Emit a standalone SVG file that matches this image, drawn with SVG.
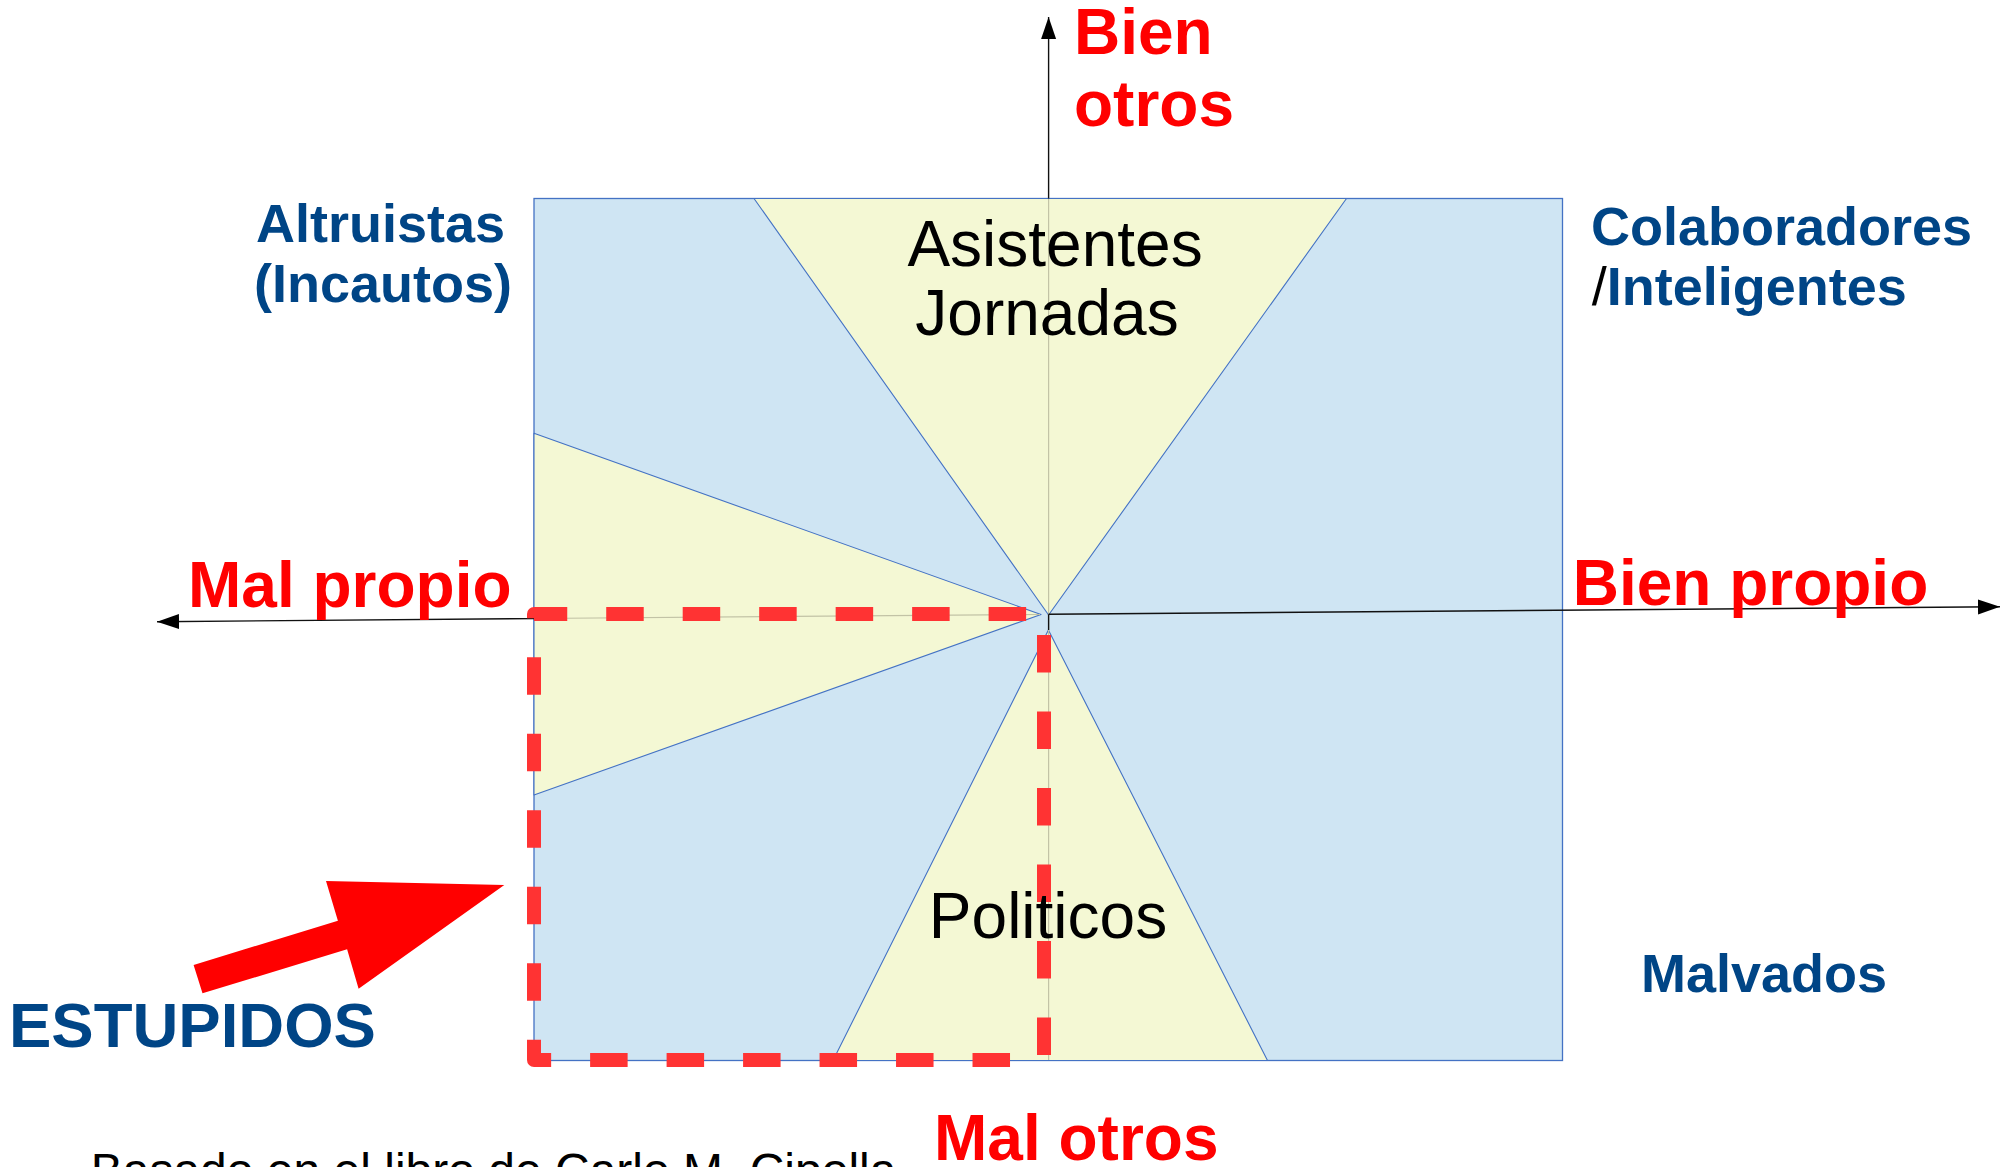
<svg xmlns="http://www.w3.org/2000/svg" width="2005" height="1167" viewBox="0 0 2005 1167">
  <style>
    text { font-family: "Liberation Sans", Arial, sans-serif; }
    .axislbl { font-size: 64px; font-weight: bold; fill: #ff0000; }
    .typelbl { font-size: 54px; font-weight: bold; fill: #004586; }
    .zone { font-size: 64px; fill: #000000; }
    .blue { fill: #cfe5f3; stroke: #4472c4; stroke-width: 1.3; }
    .yellow { fill: #f4f8d4; stroke: #4472c4; stroke-width: 1.1; stroke-linejoin: round; }
    .axis { stroke: #111111; stroke-width: 1.4; fill: none; }
    .faint { stroke: #c2c3a6; stroke-width: 1.2; fill: none; }
  </style>
  <defs>
    <marker id="arrow" markerUnits="userSpaceOnUse" markerWidth="22" markerHeight="16" refX="22" refY="8" orient="auto">
      <path d="M0,0.5 L22,8 L0,15.5 z" fill="#000000"/>
    </marker>
  </defs>

  <rect width="2005" height="1167" fill="#ffffff"/>

  <g id="board">
    <rect class="blue" x="534" y="198.5" width="1028.5" height="862"/>
  </g>
  <g id="zone-top">
    <polygon class="yellow" points="754,198.5 1346.5,198.5 1048.6,615"/>
  </g>
  <g id="zone-left">
    <polygon class="yellow" points="534,433.3 1041,614.5 534,795"/>
  </g>
  <g id="zone-bottom">
    <polygon class="yellow" points="1048.4,630 1267.5,1060.5 833,1060.5"/>
  </g>

  <g id="connectors">
    <line class="faint" x1="1048.6" y1="199" x2="1048.6" y2="1060"/>
    <line class="faint" x1="535" y1="618.5" x2="1040" y2="614.5"/>
    <line class="axis" x1="1048.6" y1="198.5" x2="1048.6" y2="17" marker-end="url(#arrow)"/>
    <line class="axis" x1="1048.6" y1="614.3" x2="1048.6" y2="630"/>
    <line class="axis" x1="534" y1="618.6" x2="157" y2="621.7" marker-end="url(#arrow)"/>
    <line class="axis" x1="1048.6" y1="614.3" x2="2000" y2="606.7" marker-end="url(#arrow)"/>
  </g>

  <g id="stupid-region">
    <path d="M1044,1060 V614 H534 V1060 Z" fill="none" stroke="#ff3333" stroke-width="14" stroke-dasharray="37.5 38.98" stroke-dashoffset="71.48" stroke-linejoin="round"/>
  </g>

  <g id="stupid-arrow">
    <polygon points="193.6,965 337.9,920.7 326,881 504.3,885 358.6,988.7 347.1,949.3 202.5,993.3" fill="#ff0000"/>
  </g>

  <g id="label-bien-otros">
    <text class="axislbl" x="1074" y="54">Bien</text>
    <text class="axislbl" x="1074" y="126">otros</text>
  </g>
  <g id="label-mal-otros">
    <text class="axislbl" x="934" y="1160">Mal otros</text>
  </g>
  <g id="label-mal-propio">
    <text class="axislbl" x="188" y="606.7">Mal propio</text>
  </g>
  <g id="label-bien-propio">
    <text class="axislbl" x="1572.7" y="605">Bien propio</text>
  </g>

  <g id="label-altruistas">
    <text class="typelbl" x="256" y="241.7">Altruistas</text>
    <text class="typelbl" x="254" y="301.7">(Incautos)</text>
  </g>
  <g id="label-colaboradores">
    <text class="typelbl" x="1591" y="245">Colaboradores</text>
    <text class="typelbl" x="1591.7" y="305"><tspan fill="#000000" font-weight="normal">/</tspan>Inteligentes</text>
  </g>
  <g id="label-malvados">
    <text class="typelbl" x="1641" y="991.7">Malvados</text>
  </g>
  <g id="label-estupidos">
    <text class="typelbl" x="9" y="1046.7" style="font-size:63.5px">ESTUPIDOS</text>
  </g>

  <g id="label-asistentes">
    <text class="zone" x="1055" y="265.7" text-anchor="middle">Asistentes</text>
    <text class="zone" x="1047" y="335" text-anchor="middle">Jornadas</text>
  </g>
  <g id="label-politicos">
    <text class="zone" x="1048" y="938.3" text-anchor="middle">Politicos</text>
  </g>

  <g id="credit">
    <text x="90.7" y="1187" style="font-size:48px" fill="#000000">Basado en el libro de Carlo M. Cipolla</text>
  </g>
</svg>
